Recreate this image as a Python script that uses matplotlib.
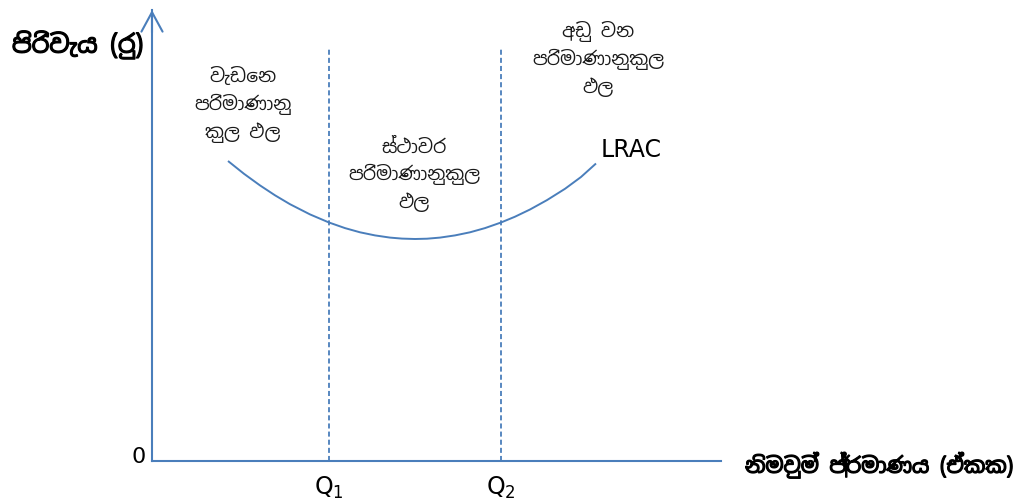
import matplotlib
matplotlib.use("Agg")
from matplotlib import pyplot as plt
import matplotlib.patheffects as pe

SIN = ["Noto Sans Sinhala", "DejaVu Sans"]
BLUE = "#4a7ebb"

# long run average cost curve (output, cost)
lrac_q = [7.6, 9.2, 10.8, 12.3, 13.8, 15.8, 17.7, 19.3, 20.8, 22.3, 23.8,
          25.0, 26.3, 27.5, 28.8, 30.3, 31.8, 33.3, 34.9, 36.3, 37.8, 39.5, 41.3, 42.9, 44.4]
lrac_c = [30.00, 28.72, 27.56, 26.57, 25.68, 24.66, 23.85, 23.29, 22.87, 22.56, 22.34,
          22.24, 22.20, 22.23, 22.34, 22.56, 22.87, 23.29, 23.85, 24.43, 25.15, 26.09,
          27.22, 28.40, 29.75]

# output levels where returns to scale change
q_marks = [17.7, 34.9]
q_labels = ["Q$_1$", "Q$_2$"]
q_top = 41.4

regions = [
    ("වැඩෙන\nපරිමාණානු\nකුල ඵල", 9.1, 35.6),
    ("ස්ථාවර\nපරිමාණානුකුල\nඵල", 26.2, 28.6),
    ("අඩු වන\nපරිමාණානුකුල\nඵල", 44.6, 40.2),
]

fig = plt.figure(figsize=(10.21, 5.01), dpi=100)
ax = fig.add_axes([152 / 1021, 40 / 501, 569 / 1021, 451 / 501])
ax.set_xlim(0, 56.9)
ax.set_ylim(0, 45.1)
for s in ["top", "right"]:
    ax.spines[s].set_visible(False)
for s in ["left", "bottom"]:
    ax.spines[s].set_color(BLUE)
    ax.spines[s].set_linewidth(1.5)
ax.set_xticks([])
ax.set_yticks([])
ax.patch.set_alpha(0)

# arrow head on the cost axis
ax.annotate("", xy=(0, 1.0), xytext=(0, 0.95), xycoords="axes fraction",
            arrowprops=dict(arrowstyle="->,head_length=0.7,head_width=0.38",
                            color=BLUE, lw=1.5, mutation_scale=20, shrinkA=0, shrinkB=0))

ax.plot(lrac_q, lrac_c, color=BLUE, lw=1.4, solid_capstyle="butt", solid_joinstyle="round")

for q, lab in zip(q_marks, q_labels):
    ax.plot([q, q], [0, q_top], color=BLUE, lw=1.3, dashes=(2.8, 1.7))
    ax.text(q, -2.7, lab, ha="center", va="center", fontsize=17,
            family=["DejaVu Sans"], clip_on=False)

ax.text(-0.6, 0.4, "0", ha="right", va="center", fontsize=16, clip_on=False)
ax.text(44.9, 31.1, "LRAC", ha="left", va="center", fontsize=17)

for txt, x, y in regions:
    ax.text(x, y, txt, ha="center", va="center", fontsize=13.5, family=SIN,
            linespacing=1.45, color="#1a1a1a")

bold = [pe.withStroke(linewidth=0.9, foreground="black")]
fig.text(12 / 1021, 1 - 45 / 501, "පිරිවැය (රු)", ha="left", va="center",
         fontsize=18, family=SIN, path_effects=bold)
fig.text(745 / 1021, 1 - 465 / 501, "නිමවුම් ප්‍රමාණය (ඒකක)", ha="left", va="center",
         fontsize=15.3, family=SIN, path_effects=bold)

fig.savefig("out.png")
